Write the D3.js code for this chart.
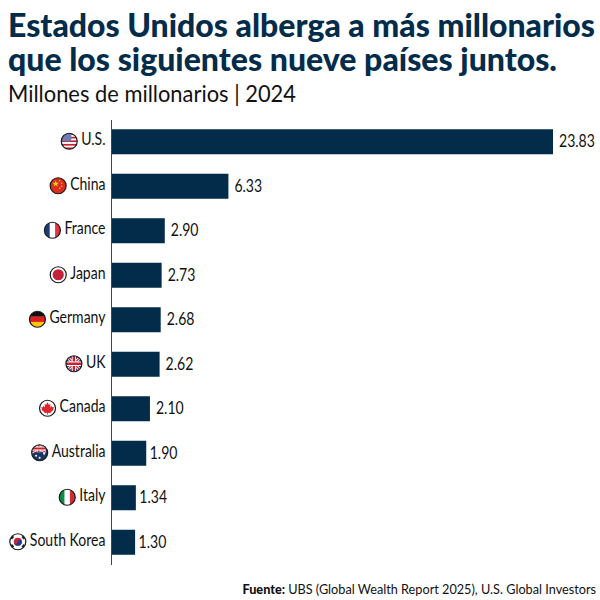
<!DOCTYPE html>
<html>
<head>
<meta charset="utf-8">
<script src="https://cdn.jsdelivr.net/npm/d3@7"></script>
<style>
  html, body { margin: 0; padding: 0; background: #fff; }
  svg { display: block; }
  text { font-family: Lato, "Open Sans", sans-serif; }
</style>
</head>
<body>
<svg id="chart"></svg>
<script>
// Chart data
const countries = ["U.S.", "China", "France", "Japan", "Germany", "UK", "Canada", "Australia", "Italy", "South Korea"];
const millionaires = [23.83, 6.33, 2.90, 2.73, 2.68, 2.62, 2.10, 1.90, 1.34, 1.30];
const titleLines = ["Estados Unidos alberga a más millonarios", "que los siguientes nueve países juntos."];
const subtitle = "Millones de millonarios | 2024";

const width = 600, height = 600;
const navy = "#032c4b";
const flagR = 8;
const squeeze = 0.825; // the original type is narrower than Lato
const labelGap = 5.5;

const svg = d3.select("#chart").attr("width", width).attr("height", height);

// Title block, stretched to the measured widths of the original type
svg.append("text").attr("x", 8).attr("y", 37)
  .attr("textLength", 587).attr("lengthAdjust", "spacingAndGlyphs")
  .attr("font-size", 32).attr("font-weight", 900).attr("fill", navy)
  .text(titleLines[0]);
svg.append("text").attr("x", 8).attr("y", 71)
  .attr("textLength", 549).attr("lengthAdjust", "spacingAndGlyphs")
  .attr("font-size", 32).attr("font-weight", 900).attr("fill", navy)
  .text(titleLines[1]);
svg.append("text").attr("x", 8).attr("y", 102)
  .attr("textLength", 288).attr("lengthAdjust", "spacingAndGlyphs")
  .attr("font-size", 23.5).attr("fill", "#111")
  .text(subtitle);

// Scales
const xScale = d3.scaleLinear().domain([0, 23.83]).range([111, 553]);
const yScale = d3.scaleBand().domain(countries).range([119.5, 564.5]).paddingInner(0.438).paddingOuter(0.219);

// Bars
svg.selectAll("rect.bar")
  .data(countries)
  .enter()
  .append("rect")
  .attr("class", "bar")
  .attr("x", xScale(0))
  .attr("y", d => yScale(d))
  .attr("width", (d, i) => xScale(millionaires[i]) - xScale(0))
  .attr("height", yScale.bandwidth())
  .attr("fill", navy);

// Axis line with country labels
const yAxis = d3.axisLeft(yScale).tickSize(0);
const axisG = svg.append("g")
  .attr("transform", `translate(${xScale(0)},0)`)
  .call(yAxis);
axisG.select(".domain").attr("stroke", "#444").attr("stroke-width", 1);
axisG.selectAll(".tick text")
  .attr("x", 0)
  .attr("dy", "0.22em")
  .attr("font-size", 17)
  .attr("fill", "#111")
  .attr("transform", `translate(${-labelGap},0) scale(${squeeze},1)`)
  .style("font-family", "Lato, sans-serif");

// Value labels
svg.selectAll("text.value")
  .data(countries)
  .enter()
  .append("text")
  .attr("class", "value")
  .attr("transform", (d, i) => {
    const vx = xScale(millionaires[i]) + (millionaires[i] < 2 ? 3.5 : 6);
    const vy = yScale(d) + yScale.bandwidth() / 2 + 5.5;
    return `translate(${vx},${vy}) scale(${squeeze},1)`;
  })
  .attr("font-size", 17)
  .attr("fill", "#111")
  .text((d, i) => millionaires[i].toFixed(2));

// Flags: each draws in a 16x16 box centred on the origin
const red = "#c8202f", blue = "#1f3d7a", white = "#fff";

function fill(g, color) {
  g.append("rect").attr("x", -flagR).attr("y", -flagR)
    .attr("width", 2 * flagR).attr("height", 2 * flagR).attr("fill", color);
}
function stripesH(g, colors) {
  const h = 2 * flagR / colors.length;
  colors.forEach((c, i) => g.append("rect").attr("x", -flagR).attr("y", -flagR + i * h)
    .attr("width", 2 * flagR).attr("height", h + 0.2).attr("fill", c));
}
function stripesV(g, colors) {
  const w = 2 * flagR / colors.length;
  colors.forEach((c, i) => g.append("rect").attr("x", -flagR + i * w).attr("y", -flagR)
    .attr("width", w + 0.2).attr("height", 2 * flagR).attr("fill", c));
}
function unionJack(g, x0, y0, x1, y1) {
  g.append("rect").attr("x", x0).attr("y", y0).attr("width", x1 - x0).attr("height", y1 - y0).attr("fill", blue);
  const cx = (x0 + x1) / 2, cy = (y0 + y1) / 2, k = (x1 - x0) / 16;
  [[x0, y0, x1, y1], [x0, y1, x1, y0]].forEach(p => {
    g.append("line").attr("x1", p[0]).attr("y1", p[1]).attr("x2", p[2]).attr("y2", p[3]).attr("stroke", white).attr("stroke-width", 3 * k);
    g.append("line").attr("x1", p[0]).attr("y1", p[1]).attr("x2", p[2]).attr("y2", p[3]).attr("stroke", red).attr("stroke-width", 1.2 * k);
  });
  [[cx, y0, cx, y1], [x0, cy, x1, cy]].forEach(p => {
    g.append("line").attr("x1", p[0]).attr("y1", p[1]).attr("x2", p[2]).attr("y2", p[3]).attr("stroke", white).attr("stroke-width", 4.4 * k);
    g.append("line").attr("x1", p[0]).attr("y1", p[1]).attr("x2", p[2]).attr("y2", p[3]).attr("stroke", red).attr("stroke-width", 2.4 * k);
  });
}

const flags = {
  "U.S.": g => {
    stripesH(g, [red, white, red, white, red, white, red, white, red]);
    g.append("rect").attr("x", -8).attr("y", -8).attr("width", 10).attr("height", 8).attr("fill", "#6d7cb3");
  },
  "China": g => {
    fill(g, "#d8301c");
    g.append("path").attr("d", d3.symbol(d3.symbolStar, 14)).attr("transform", "translate(-2.5,-2)").attr("fill", "#f7d21e");
    [[1.5, -5], [3.5, -2.5], [3.5, 0.5], [1.5, 2.5]].forEach(p =>
      g.append("circle").attr("cx", p[0]).attr("cy", p[1]).attr("r", 0.7).attr("fill", "#f7d21e"));
  },
  "France": g => stripesV(g, [blue, white, "#e8343f"]),
  "Japan": g => {
    fill(g, white);
    g.append("circle").attr("r", 5.6).attr("fill", "#c4213a");
  },
  "Germany": g => stripesH(g, ["#111", "#dd1f1f", "#fcc50d"]),
  "UK": g => unionJack(g, -8, -8, 8, 8),
  "Canada": g => {
    fill(g, white);
    g.append("path")
      .attr("d", "M0,-6L1.4,-3.4L3,-4.2L2.4,-0.8L4,-2.4L4.6,-1L6.4,-1.2L5.6,1L6.2,1.6L3,4L3.2,5L0.4,4.6L0.4,6.4L-0.4,6.4L-0.4,4.6L-3.2,5L-3,4L-6.2,1.6L-5.6,1L-6.4,-1.2L-4.6,-1L-4,-2.4L-2.4,-0.8L-3,-4.2L-1.4,-3.4Z")
      .attr("fill", "#e0262c");
  },
  "Australia": g => {
    fill(g, "#1c3668");
    unionJack(g, -8, -8, 6, -0.5);
    [[0, 5], [4.5, 1], [-3.5, 3]].forEach(p =>
      g.append("circle").attr("cx", p[0]).attr("cy", p[1]).attr("r", 1).attr("fill", white));
  },
  "Italy": g => stripesV(g, ["#0f8a48", white, "#d62b36"]),
  "South Korea": g => {
    fill(g, white);
    g.append("circle").attr("r", 4).attr("fill", "#d0213a");
    g.append("path").attr("d", "M-4,0A4,4 0 0,0 4,0A2,2 0 0,0 0,0A2,2 0 0,1 -4,0Z").attr("fill", "#1d3f86");
    [[-5.6, -4.2, 40], [5.6, -4.2, -40], [-5.6, 4.2, -40], [5.6, 4.2, 40]].forEach(p =>
      g.append("rect").attr("x", -1.7).attr("y", -1.2).attr("width", 3.4).attr("height", 2.4)
        .attr("transform", `translate(${p[0]},${p[1]}) rotate(${p[2] + 90})`).attr("fill", "#222"));
  }
};

const labelNodes = axisG.selectAll(".tick text").nodes();
const defs = svg.append("defs");
defs.append("clipPath").attr("id", "flag-clip").append("circle").attr("r", flagR);

countries.forEach((c, i) => {
  const labelWidth = labelNodes[i].getComputedTextLength() * squeeze;
  const cx = xScale(0) - labelGap - labelWidth - 4 - flagR;
  const cy = yScale(c) + yScale.bandwidth() / 2 - 0.5;
  const holder = svg.append("g").attr("transform", `translate(${cx},${cy})`);
  const inner = holder.append("g").attr("clip-path", "url(#flag-clip)");
  flags[c](inner);
  holder.append("circle").attr("r", flagR).attr("fill", "none").attr("stroke", "#1a1a1a").attr("stroke-width", 1.2);
});

// Source line
const source = svg.append("text").attr("x", 596).attr("y", 594)
  .attr("text-anchor", "end").attr("font-size", 12.7).attr("fill", "#111");
source.append("tspan").attr("font-weight", 900).text("Fuente: ");
source.append("tspan").text("UBS (Global Wealth Report 2025), U.S. Global Investors");
</script>
</body>
</html>
